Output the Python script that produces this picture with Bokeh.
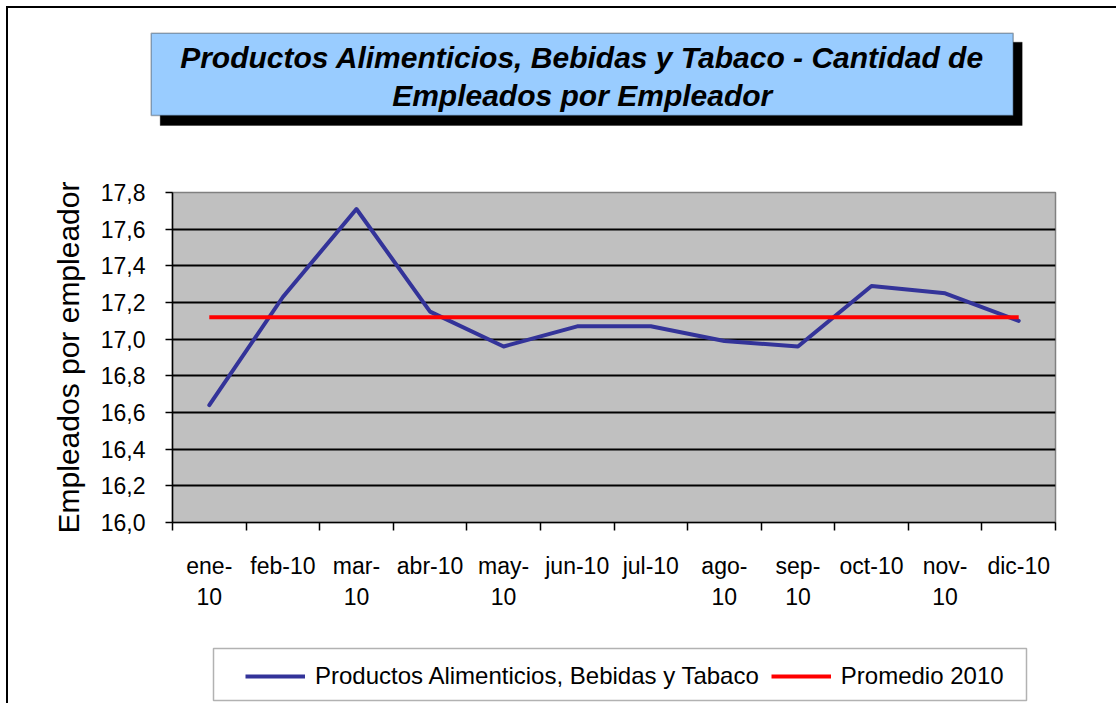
import numpy as np
from bokeh.plotting import figure
from bokeh.layouts import column
from bokeh.models import (FixedTicker, Range1d, BoxAnnotation, Label, Legend,
                          LegendItem, CustomJSTickFormatter)
from bokeh.embed import file_html
from bokeh.resources import INLINE

# ---------------- data ----------------
months = ["ene-\n10", "feb-10", "mar-\n10", "abr-10", "may-\n10", "jun-10",
          "jul-10", "ago-\n10", "sep-\n10", "oct-10", "nov-\n10", "dic-10"]
empleados = [16.64, 17.23, 17.71, 17.15, 16.96, 17.07,
             17.07, 16.99, 16.96, 17.29, 17.25, 17.10]
promedio = [17.12, 17.12, 17.12, 17.12, 17.12, 17.12,
            17.12, 17.12, 17.12, 17.12, 17.12, 17.12]
y_ticks = [16.0, 16.2, 16.4, 16.6, 16.8, 17.0, 17.2, 17.4, 17.6, 17.8]
y_labels = ["16,0", "16,2", "16,4", "16,6", "16,8", "17,0", "17,2", "17,4", "17,6", "17,8"]
title_text = "Productos Alimenticios, Bebidas y Tabaco - Cantidad de\nEmpleados por Empleador"
y_title = "Empleados por empleador"
series_names = ["Productos Alimenticios, Bebidas y Tabaco", "Promedio 2010"]
series_colors = ["#333399", "#FF0000"]

FONT = "Liberation Sans"
LOOKUP = ("const i = tvals.findIndex(t => Math.abs(t - tick) < 1e-6); "
          "return i >= 0 ? tlabels[i] : '';")

# page geometry (image pixels); children start at OX, OY inside the bordered column
OX, OY = 8, 8
WIDTH = 1108
X_RIGHT = OX + WIDTH
T_BOTTOM = 140          # title strip: OY .. 140
C_BOTTOM = 630          # chart strip: 140 .. 630
L_BOTTOM = 703          # legend strip: 630 .. 703


def strip(y_top, y_bottom):
    f = figure(width=WIDTH, height=y_bottom - y_top, output_backend="svg",
               toolbar_location=None, x_range=Range1d(OX, X_RIGHT),
               y_range=Range1d(y_bottom, y_top), min_border=0, frame_align=False)
    f.axis.visible = False
    f.grid.visible = False
    f.outline_line_color = None
    f.background_fill_color = "white"
    f.border_fill_color = "white"
    return f


# ---------------- title strip ----------------
pt = strip(OY, T_BOTTOM)
pt.add_layout(BoxAnnotation(left=159.7, right=1021.7, top=41.7, bottom=125,
                            fill_color="black", fill_alpha=1, line_color="black", line_width=1))
pt.add_layout(BoxAnnotation(left=150.7, right=1012.7, top=32.7, bottom=115,
                            fill_color="#99CCFF", fill_alpha=1, line_color="black", line_width=1.5))
pt.add_layout(Label(x=581.7, y=76, text=title_text, text_align="center",
                    text_baseline="middle", text_font=FONT, text_font_style="bold italic",
                    text_font_size="30px", text_color="black", text_line_height=1.15))

# ---------------- chart strip ----------------
FL, FT, FR, FB = 172, 192, 1055, 522
p = figure(width=WIDTH, height=C_BOTTOM - T_BOTTOM, output_backend="svg", toolbar_location=None,
           x_range=Range1d(0, len(months)), y_range=Range1d(y_ticks[0], y_ticks[-1]),
           min_border_left=FL - OX, min_border_right=X_RIGHT - FR,
           min_border_top=FT - T_BOTTOM, min_border_bottom=C_BOTTOM - FB, frame_align=False)

x_centers = [i + 0.5 for i in range(len(months))]
x_bounds = [float(i) for i in range(len(months) + 1)]

p.background_fill_color = "#C0C0C0"
p.border_fill_color = "white"
p.outline_line_color = "#808080"
p.outline_line_width = 1.5

p.yaxis.ticker = FixedTicker(ticks=y_ticks)
p.yaxis.formatter = CustomJSTickFormatter(args=dict(tvals=y_ticks, tlabels=y_labels), code=LOOKUP)
p.yaxis.axis_line_color = "black"
p.yaxis.axis_line_width = 1.5
p.yaxis.major_tick_out = 7
p.yaxis.major_tick_in = 0
p.yaxis.major_tick_line_width = 1.5
p.yaxis.minor_tick_line_color = None
p.yaxis.major_label_text_font = FONT
p.yaxis.major_label_text_font_size = "23px"
p.yaxis.major_label_text_color = "black"
p.yaxis.major_label_standoff = 20
p.yaxis.axis_label = y_title
p.yaxis.axis_label_text_font = FONT
p.yaxis.axis_label_text_font_style = "normal"
p.yaxis.axis_label_text_font_size = "30px"
p.yaxis.axis_label_text_color = "black"
p.yaxis.axis_label_standoff = 13

p.xaxis.ticker = FixedTicker(ticks=x_centers, minor_ticks=x_bounds)
p.xaxis.formatter = CustomJSTickFormatter(args=dict(tvals=x_centers, tlabels=months), code=LOOKUP)
p.xaxis.axis_line_color = "black"
p.xaxis.axis_line_width = 1.5
p.xaxis.major_tick_line_color = None
p.xaxis.major_tick_out = 0
p.xaxis.major_tick_in = 0
p.xaxis.minor_tick_line_color = "black"
p.xaxis.minor_tick_line_width = 1.5
p.xaxis.minor_tick_out = 8
p.xaxis.minor_tick_in = 0
p.xaxis.major_label_text_font = FONT
p.xaxis.major_label_text_font_size = "23px"
p.xaxis.major_label_text_color = "black"
p.xaxis.major_label_standoff = 22

p.xgrid.visible = False
p.ygrid.grid_line_color = "black"
p.ygrid.grid_line_width = 1.8

p.line(x_centers, empleados, line_color=series_colors[0], line_width=4,
       line_cap="round", line_join="round")
p.line(x_centers, promedio, line_color=series_colors[1], line_width=4)

# ---------------- legend strip ----------------
pl = strip(C_BOTTOM, L_BOTTOM)
pl.add_layout(BoxAnnotation(left=213, right=1026, top=648, bottom=700,
                            fill_color="white", fill_alpha=1, line_color="black", line_width=1.5))
# legend keys only (no data drawn in this strip)
k1 = pl.line(x=np.array([np.nan, np.nan]), y=np.array([np.nan, np.nan]),
             line_color=series_colors[0], line_width=4)
k2 = pl.line(x=np.array([np.nan, np.nan]), y=np.array([np.nan, np.nan]),
             line_color=series_colors[1], line_width=4)
legend = Legend(items=[LegendItem(label=series_names[0], renderers=[k1]),
                       LegendItem(label=series_names[1], renderers=[k2])],
                orientation="horizontal", location=(245 - OX, L_BOTTOM - 690),
                padding=0, margin=0, border_line_alpha=0, background_fill_alpha=0,
                glyph_width=60, glyph_height=20, label_standoff=10, spacing=12,
                label_text_font=FONT, label_text_font_size="24px", label_text_color="black")
pl.add_layout(legend, "center")

page = column(pt, p, pl, spacing=0,
              styles={"margin-left": "6px", "margin-top": "6px",
                      "border-left": "2px solid black", "border-top": "2px solid black"})

open("out.html", "w").write(file_html(page, INLINE))
